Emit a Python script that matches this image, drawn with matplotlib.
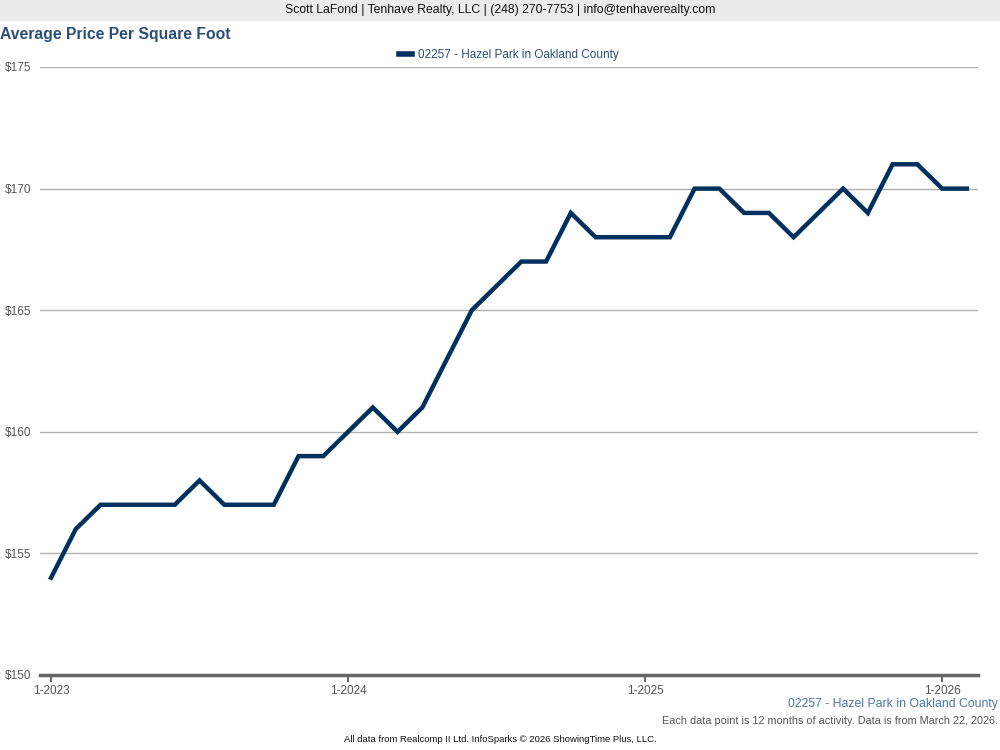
import matplotlib
matplotlib.use("Agg")
import matplotlib.pyplot as plt

plt.rcParams["font.family"] = ["Liberation Sans", "DejaVu Sans"]

# monthly values, 1-2023 .. 2-2026
months = list(range(38))
price = [154, 156, 157, 157, 157, 157, 158, 157, 157, 157, 159, 159,
         160, 161, 160, 161, 163, 165, 166, 167, 167, 169, 168, 168,
         168, 168, 170, 170, 169, 169, 168, 169, 170, 169, 171, 171,
         170, 170]
tick_pos = [0, 12, 24, 36]
tick_labels = ["1-2023", "1-2024", "1-2025", "1-2026"]
y_ticks = [150, 155, 160, 165, 170, 175]
series_name = "02257 - Hazel Park in Oakland County"

line_color = "#00305e"
title_color = "#2c4f78"

fig = plt.figure(figsize=(10, 7.5), dpi=100)

# header band
fig.patches.append(plt.Rectangle((0, 1 - 20 / 750), 1, 20 / 750,
                                 transform=fig.transFigure,
                                 color="#ebebeb", zorder=0))
fig.text(0.5, 1 - 10.5 / 750,
         "Scott LaFond | Tenhave Realty, LLC | (248) 270-7753 | info@tenhaverealty.com",
         ha="center", va="center", fontsize=8.8, color="#111111")

fig.text(0.0, 1 - 35 / 750, "Average Price Per Square Foot",
         ha="left", va="center", fontsize=11.3, fontweight="bold", color=title_color)

ax = fig.add_axes([40 / 1000, 75 / 750, 938 / 1000, 608 / 750])
ax.plot(months, price, color=line_color, lw=3.2, solid_joinstyle="miter",
        label=series_name)

ax.set_xlim(-0.446, 37.45)
ax.set_ylim(150, 175)
ax.set_yticks(y_ticks)
ax.set_yticklabels([f"${v}" for v in y_ticks])
ax.set_xticks(tick_pos)
ax.set_xticklabels(tick_labels)

ax.grid(axis="y", color="#b0b0b0", lw=1)
ax.set_axisbelow(True)
for s in ["top", "right", "left"]:
    ax.spines[s].set_visible(False)
ax.spines["bottom"].set_color("#666666")
ax.spines["bottom"].set_linewidth(2.5)

ax.tick_params(axis="y", length=0, pad=6, labelsize=8.5, labelcolor="#555555")
ax.tick_params(axis="x", length=5, width=1.5, color="#666666", pad=2,
               labelsize=8.5, labelcolor="#555555")

leg = ax.legend(loc="lower center", bbox_to_anchor=(0.5, 1.002), frameon=False,
                fontsize=8.5, handlelength=1.1, handletextpad=0.5,
                borderaxespad=0.0)
for t in leg.get_texts():
    t.set_color(title_color)
leg.get_lines()[0].set_linewidth(4)

fig.text(0.998, 1 - 704 / 750, series_name, ha="right", va="center",
         fontsize=8.8, color="#4a77a8")
fig.text(0.998, 1 - 721 / 750,
         "Each data point is 12 months of activity. Data is from March 22, 2026.",
         ha="right", va="center", fontsize=7.8, color="#555555")
fig.text(0.5, 1 - 740 / 750,
         "All data from Realcomp II Ltd. InfoSparks \u00a9 2026 ShowingTime Plus, LLC.",
         ha="center", va="center", fontsize=6.8, color="#111111")

fig.savefig("out.png", dpi=100)
